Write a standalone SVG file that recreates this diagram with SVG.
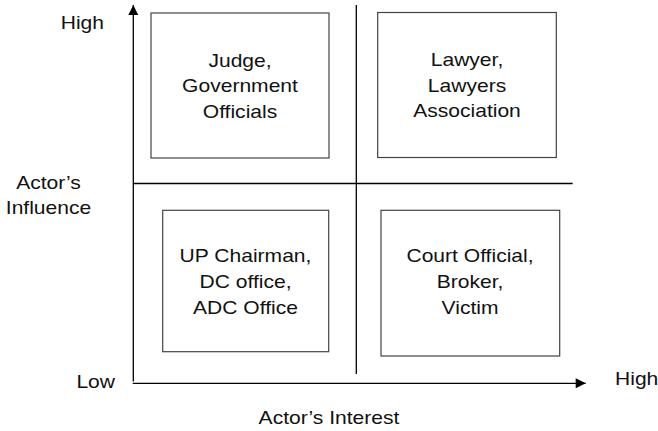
<svg xmlns="http://www.w3.org/2000/svg" width="658" height="431" viewBox="0 0 658 431">
<style>
text{font-family:"Liberation Sans",Arial,Helvetica,sans-serif;font-size:18px;fill:#111}
.c{text-anchor:middle}
.e{text-anchor:end}
.box{fill:#fff;stroke:#444;stroke-width:1.2}
.ax{stroke:#000;stroke-width:1.3;fill:none}
</style>
<defs>
<marker id="ah" viewBox="0 0 10 10" refX="10" refY="5" markerWidth="11" markerHeight="10" markerUnits="userSpaceOnUse" orient="auto">
<path d="M0,0 L10,5 L0,10 Z" fill="#000"/>
</marker>
</defs>
<rect width="658" height="431" fill="#fff"/>
<g id="connectors">
<line class="ax" x1="133.3" y1="381.5" x2="133.3" y2="5" marker-end="url(#ah)"/>
<line class="ax" x1="132.7" y1="383.3" x2="585.7" y2="383.3" marker-end="url(#ah)"/>
<line class="ax" x1="356.3" y1="5" x2="356.3" y2="374"/>
<line class="ax" x1="133.3" y1="183.5" x2="572.7" y2="183.5"/>
</g>
<g id="node-judge">
<rect class="box" x="151" y="13" width="178" height="145"/>
<text class="c" transform="translate(240,66.5) scale(1.17,1)">Judge,</text>
<text class="c" transform="translate(240,92) scale(1.17,1)">Government</text>
<text class="c" transform="translate(240,117.5) scale(1.17,1)">Officials</text>
</g>
<g id="node-lawyer">
<rect class="box" x="377.7" y="12.5" width="178.6" height="145"/>
<text class="c" transform="translate(467,66) scale(1.17,1)">Lawyer,</text>
<text class="c" transform="translate(467,91.5) scale(1.17,1)">Lawyers</text>
<text class="c" transform="translate(467,117) scale(1.17,1)">Association</text>
</g>
<g id="node-up">
<rect class="box" x="162.7" y="210.3" width="166" height="141.4"/>
<text class="c" transform="translate(245.5,262.3) scale(1.17,1)">UP Chairman,</text>
<text class="c" transform="translate(245.5,288.3) scale(1.17,1)">DC office,</text>
<text class="c" transform="translate(245.5,314) scale(1.17,1)">ADC Office</text>
</g>
<g id="node-court">
<rect class="box" x="381" y="210.3" width="178.7" height="145.7"/>
<text class="c" transform="translate(470,262.3) scale(1.17,1)">Court Official,</text>
<text class="c" transform="translate(470,288.3) scale(1.17,1)">Broker,</text>
<text class="c" transform="translate(470,314) scale(1.17,1)">Victim</text>
</g>
<g id="axis-labels">
<text class="e" transform="translate(104,29) scale(1.17,1)">High</text>
<text class="c" transform="translate(48.5,189) scale(1.17,1)">Actor’s</text>
<text class="c" transform="translate(48.5,214) scale(1.17,1)">Influence</text>
<text class="e" transform="translate(115,388.3) scale(1.17,1)">Low</text>
<text transform="translate(615,385) scale(1.17,1)">High</text>
<text class="c" transform="translate(329,424) scale(1.17,1)">Actor’s Interest</text>
</g>
</svg>
